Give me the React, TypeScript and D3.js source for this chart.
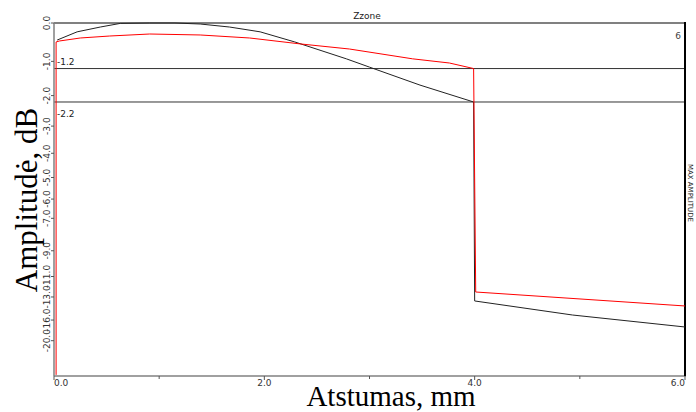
import React from "react";
import * as d3 from "d3";

const blackX = [0.03, 0.22, 0.44, 0.63, 0.91, 1.15, 1.39, 1.67, 1.96, 2.29, 2.78, 3.0, 3.48, 3.99, 4.0, 4.93, 6.0];
const blackDb = [-0.43, -0.22, -0.1, -0.01, 0, 0, -0.025, -0.1, -0.22, -0.48, -0.93, -1.16, -1.68, -2.2, -13.45, -15.25, -17.15];

const redX = [0.02, 0.02, 0.05, 0.25, 0.53, 0.91, 1.39, 1.86, 2.34, 2.81, 3.41, 3.76, 3.99, 4.01, 6.0];
const redDb = [-50, -0.48, -0.455, -0.377, -0.326, -0.275, -0.3, -0.377, -0.53, -0.665, -0.93, -1.045, -1.2, -12.47, -14.05];

const yTicks = [0, -1, -2, -3, -4, -5, -6, -7, -9, -11, -13, -16, -20];
const xTicksMajor = [0, 2, 4, 6];
const xTicksMinor = [1, 3, 5];
const refLevels = [-1.2, -2.2];

const W = 696;
const H = 412;
const L = 54;
const R = 685;
const T = 23;
const B = 376;

export default function App() {
  const x = d3.scaleLinear().domain([0, 6]).range([L, R]);
  const amp = d3.scaleLinear().domain([0, 1]).range([B, T]);
  const y = (db: number) => amp(Math.pow(10, db / 20));

  const line = d3
    .line<[number, number]>()
    .x((d) => x(d[0]))
    .y((d) => y(d[1]));

  const blackPts: [number, number][] = blackX.map((v, i) => [v, blackDb[i]]);
  const redPts: [number, number][] = redX.map((v, i) => [v, redDb[i]]);

  const tickFont = "'DejaVu Sans', sans-serif";

  return (
    <svg
      width={W}
      height={H}
      style={{ position: "fixed", left: 0, top: 0, background: "#fff" }}
      fontFamily={tickFont}
    >
      <rect x={0} y={0} width={W} height={H} fill="#fff" />
      {/* title */}
      <text x={367} y={19} fontSize={9} textAnchor="middle" fill="#222">
        Zzone
      </text>
      <text x={678} y={39} fontSize={9} textAnchor="middle" fill="#444">
        6
      </text>
      {/* reference lines */}
      {refLevels.map((lv) => (
        <line key={lv} x1={L} x2={R} y1={y(lv)} y2={y(lv)} stroke="#333" strokeWidth={1} />
      ))}
      <text x={57} y={y(-1.2) - 4} fontSize={9} fill="#222">
        -1.2
      </text>
      <text x={57} y={y(-2.2) + 15} fontSize={9} fill="#222">
        -2.2
      </text>
      {/* frame */}
      <line x1={L} x2={R} y1={T} y2={T} stroke="#808080" strokeWidth={2} />
      <line x1={L} x2={L} y1={T} y2={B} stroke="#808080" strokeWidth={1.5} />
      <line x1={L} x2={R + 1} y1={B} y2={B} stroke="#808080" strokeWidth={1.5} />
      <line x1={R} x2={R} y1={T - 1} y2={B} stroke="#000" strokeWidth={2} />
      {/* y ticks */}
      {yTicks.map((t) => (
        <g key={t}>
          <line x1={L - 3} x2={L} y1={y(t)} y2={y(t)} stroke="#555" strokeWidth={1} />
          <text
            transform={`translate(${L - 4},${y(t)}) rotate(-90)`}
            fontSize={9}
            textAnchor="middle"
            fill="#333"
          >
            {t.toFixed(1)}
          </text>
        </g>
      ))}
      {/* x ticks */}
      {xTicksMajor.map((t, i) => (
        <g key={t}>
          <line x1={x(t)} x2={x(t)} y1={B} y2={B + 4} stroke="#555" strokeWidth={1} />
          <text
            x={x(t)}
            y={B + 10}
            fontSize={9}
            textAnchor={i === 0 ? "start" : i === xTicksMajor.length - 1 ? "end" : "middle"}
            fill="#333"
          >
            {t.toFixed(1)}
          </text>
        </g>
      ))}
      {xTicksMinor.map((t) => (
        <line key={t} x1={x(t)} x2={x(t)} y1={B} y2={B + 3} stroke="#555" strokeWidth={1} />
      ))}
      {/* right label */}
      <text
        transform={`translate(688,193) rotate(90)`}
        fontSize={7}
        textAnchor="middle"
        fill="#222"
      >
        MAX AMPLITUDE
      </text>
      {/* curves */}
      <path d={line(blackPts) ?? ""} fill="none" stroke="#222" strokeWidth={1} />
      <path d={line(redPts) ?? ""} fill="none" stroke="#ff0000" strokeWidth={1} />
      {/* axis titles */}
      <text
        x={391}
        y={406}
        fontSize={29}
        textAnchor="middle"
        fontFamily="'Liberation Serif', 'Times New Roman', serif"
        fill="#000"
      >
        Atstumas, mm
      </text>
      <text
        transform={`translate(37,200) rotate(-90)`}
        fontSize={31}
        textAnchor="middle"
        fontFamily="'Liberation Serif', 'Times New Roman', serif"
        fill="#000"
      >
        Amplitudė, dB
      </text>
    </svg>
  );
}
